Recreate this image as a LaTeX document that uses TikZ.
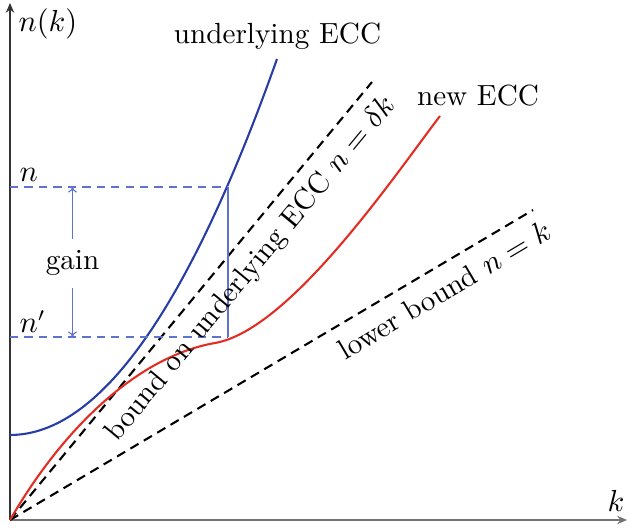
\documentclass[tikz,border=0pt]{standalone}
\usetikzlibrary{arrows.meta}
\definecolor{curveblue}{RGB}{40,60,165}
\definecolor{guideblue}{RGB}{95,115,205}
\definecolor{curvered}{RGB}{225,45,35}
\definecolor{axisgray}{RGB}{115,115,115}
\begin{document}
\begin{tikzpicture}[x=0.36pt,y=-0.36pt,
  font=\fontsize{10.5pt}{12.6pt}\selectfont,
  axis/.style={line width=0.75pt,-{Stealth[length=3.5pt,width=3pt]}},
  curve/.style={line width=0.75pt},
  bounddash/.style={line width=0.75pt,dash pattern=on 3.4pt off 2.2pt},
  guide/.style={guideblue,line width=0.4pt},
  guidedash/.style={guide,dash pattern=on 3pt off 2.2pt},
  guidearrow/.style={guide,-{To[length=2pt,width=3.2pt]}},
  lbl/.style={inner sep=0pt,anchor=base},
  lblw/.style={inner sep=0pt,anchor=base west},
]
\useasboundingbox (0,0) rectangle (628,528);
% axes
\coordinate (O) at (10,520);
\coordinate (ytop) at (10,3);
\coordinate (xend) at (627,520);
\draw[axis,axisgray] (O) -- (xend);
\draw[axis,black!80] (O) -- (ytop);
% bounds
\coordinate (dk) at (372,82);
\coordinate (kk) at (533,210);
\draw[bounddash] (O) -- (dk);
\draw[bounddash] (O) -- (kk);
% underlying ECC curve
\coordinate (b0) at (10,435);
\coordinate (b1) at (277,59);
\draw[curve,curveblue] (b0) .. controls (99,435) and (188,310) .. (b1);
% new ECC curve
\coordinate (r1) at (215,343);
\coordinate (r2) at (440,116);
\draw[curve,curvered] (O) .. controls (65,425) and (140,356) .. (r1)
  .. controls (290,330) and (395,175) .. (r2);
% gain guides
\coordinate (nL) at (10,187);
\coordinate (nR) at (228,187);
\coordinate (mL) at (10,337);
\coordinate (mR) at (228,337);
\draw[guidedash] (nL) -- (nR);
\draw[guidedash] (mL) -- (mR);
\draw[guide] (nR) -- (mR);
\node[inner xsep=0pt,inner ysep=4pt,anchor=base] (gain) at (72.5,270) {gain};
\draw[guidearrow] (gain.north) -- (gain.north |- nL);
\draw[guidearrow] (gain.south) -- (gain.south |- mL);
% labels
\node[lblw] (nk) at (18,32) {$n(k)$};
\node[lblw] (klbl) at (607,512) {$k$};
\node[lblw] (nlbl) at (19,182) {$n$};
\node[lblw] (nplbl) at (19,333) {$n'$};
\node[lbl] (ulbl) at (277.5,44) {underlying ECC};
\node[lbl] (newlbl) at (478,106) {new ECC};
\node[rotate=50.4,inner sep=0pt] (dlbl) at (251,269) {bound on underlying ECC $n=\delta k$};
\node[rotate=30.66,inner sep=0pt] (llbl) at (444,290) {lower bound $n=k$};
\end{tikzpicture}
\end{document}
